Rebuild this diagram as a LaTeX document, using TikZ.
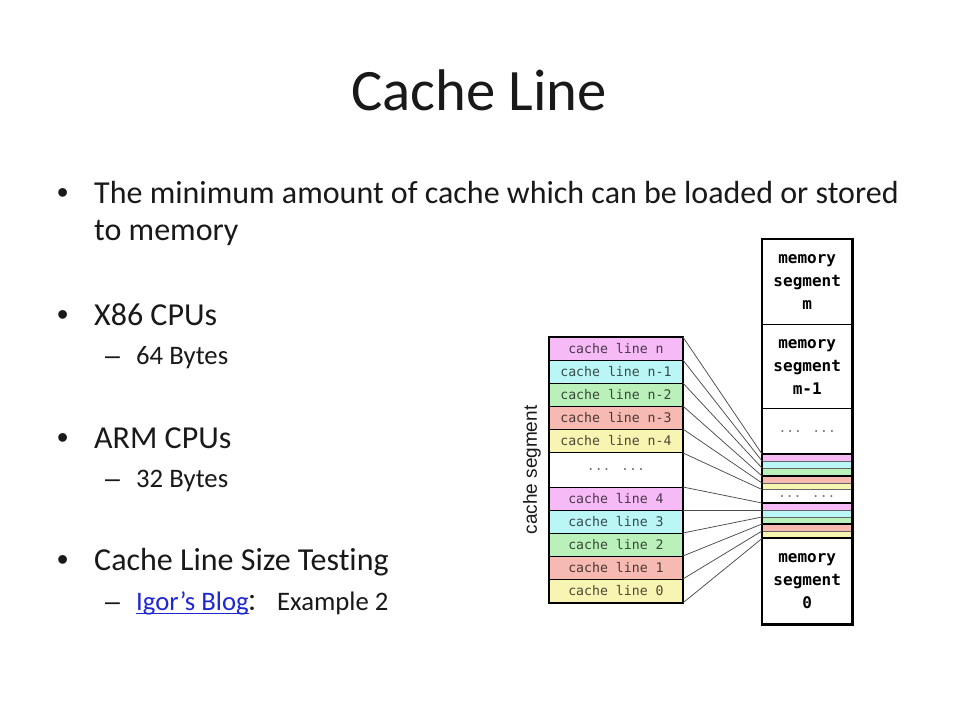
\documentclass[tikz,border=0pt]{standalone}
\usepackage{fontspec}
\setmainfont{Carlito}[Ligatures={NoCommon}]
\newfontfamily\monof{DejaVu Sans Mono}
\newfontfamily\sansf{Liberation Sans}
\newfontfamily\cjk{Noto Sans CJK SC}
\definecolor{cpink}{RGB}{246,186,246}
\definecolor{ccyan}{RGB}{186,246,246}
\definecolor{cgreen}{RGB}{186,240,186}
\definecolor{cred}{RGB}{246,186,178}
\definecolor{cyellow}{RGB}{248,244,178}
\definecolor{linkblue}{RGB}{30,40,210}
\definecolor{txt}{RGB}{25,25,25}
\begin{document}
\begin{tikzpicture}[x=1pt,y=-1pt,
  titlet/.style={font=\fontsize{58.7}{60}\selectfont, text=txt, inner sep=0, anchor=base},
  body/.style={font=\fontsize{32}{36}\selectfont, text=txt, inner sep=0, anchor=base west},
  subt/.style={font=\fontsize{26.7}{30}\selectfont, text=txt, inner sep=0, anchor=base west},
  bul/.style={font=\sansf\fontsize{32}{36}\selectfont, text=txt, inner sep=0, anchor=base west},
  subdash/.style={font=\sansf\fontsize{26.7}{30}\selectfont, text=txt, inner sep=0, anchor=base west},
  crow/.style={draw=black, line width=0.9pt, fill=#1, text=#1!30!black, minimum width=133pt, minimum height=23pt, inner sep=0, anchor=north west, font=\monof\fontsize{13.2}{14}\selectfont},
  mseg/.style={draw=black, line width=1.4pt, minimum width=89pt, inner sep=0, anchor=north west, align=center, font=\monof\bfseries\fontsize{16}{23}\selectfont},
  stripe/.style={draw=black!60, line width=0.5pt, fill=#1, minimum width=89pt, inner sep=0, anchor=north west},
  dotst/.style={text=black!55, font=\monof\fontsize{13}{14}\selectfont},
  conn/.style={draw=black!70, line width=0.75pt},
  thickl/.style={draw=black, line width=1.6pt}
]
\useasboundingbox[fill=white] (0,0) rectangle (960,720);

% title
\node[titlet] (title) at (479,110) {Cache Line};

% bullets
\node[bul] (bu1) at (57,203) {•};
\node[body] (t1) at (94,203) {The minimum amount of cache which can be loaded or stored};
\node[body] (t1b) at (94,240) {to memory};
\node[bul] (bu2) at (57,325) {•};
\node[body] (t2) at (94,325) {X86 CPUs};
\node[subdash] (da2) at (105,364) {–};
\node[subt] (s2) at (136,364) {64 Bytes};
\node[bul] (bu3) at (57,448) {•};
\node[body] (t3) at (94,448) {ARM CPUs};
\node[subdash] (da3) at (105,487) {–};
\node[subt] (s3) at (136,487) {32 Bytes};
\node[bul] (bu4) at (57,570) {•};
\node[body] (t4) at (94,570) {Cache Line Size Testing};
\node[subdash] (da4) at (105,610) {–};
\node[subt, text=linkblue] (link) at (136,610) {Igor’s Blog};
\draw[linkblue, line width=1.3pt] ([yshift=-3.5pt]link.base west) -- ([yshift=-3.5pt]link.base east);
\node[subt, font=\cjk\fontsize{24}{30}\selectfont] (colon) at (246,610) {：};
\node[subt] (ex) at (277,610) {Example 2};

% cache segment column
\node[crow=cpink]   (cn)  at (549,337) {cache line n};
\node[crow=ccyan]   (cn1) at (549,360) {cache line n-1};
\node[crow=cgreen]  (cn2) at (549,383) {cache line n-2};
\node[crow=cred]    (cn3) at (549,406) {cache line n-3};
\node[crow=cyellow] (cn4) at (549,429) {cache line n-4};
\node[crow=white, minimum height=35pt, text=black!55] (cdots) at (549,452) {... ...};
\node[crow=cpink]   (c4)  at (549,487) {cache line 4};
\node[crow=ccyan]   (c3)  at (549,510) {cache line 3};
\node[crow=cgreen]  (c2)  at (549,533) {cache line 2};
\node[crow=cred]    (c1)  at (549,556) {cache line 1};
\node[crow=cyellow] (c0)  at (549,579) {cache line 0};
\draw[line width=1.8pt] (cn.north west) rectangle (c0.south east);
\node[rotate=90, font=\sansf\fontsize{19}{20}\selectfont, text=txt] (cseg) at (532,470) {cache segment};

% memory column
\node[mseg, minimum height=85pt] (mm)  at (762,239) {memory\\segment\\m};
\node[mseg, minimum height=84pt] (mm1) at (762,324) {memory\\segment\\m-1};
\node[mseg, minimum height=46pt, font=\monof\fontsize{13}{14}\selectfont, text=black!55] (mdots) at (762,408) {... ...};
\node[stripe=cpink,   minimum height=7pt] (s1p) at (762,454) {};
\node[stripe=ccyan,   minimum height=7pt] (s1c) at (762,461) {};
\node[stripe=cgreen,  minimum height=8pt] (s1g) at (762,468) {};
\node[stripe=cred,    minimum height=7pt] (s1r) at (762,476) {};
\node[stripe=cyellow, minimum height=6pt] (s1y) at (762,483) {};
\node[stripe=white,   minimum height=14pt, dotst] (sdots) at (762,489) {... ...};
\node[stripe=cpink,   minimum height=7pt] (s2p) at (762,503) {};
\node[stripe=ccyan,   minimum height=7pt] (s2c) at (762,510) {};
\node[stripe=cgreen,  minimum height=7pt] (s2g) at (762,517) {};
\node[stripe=cred,    minimum height=7pt] (s2r) at (762,524) {};
\node[stripe=cyellow, minimum height=7pt] (s2y) at (762,531) {};
\node[mseg, minimum height=85pt] (m0)  at (762,538) {memory\\segment\\0};
\draw[thickl] (s1p.north west) -- (s1p.north east);
\draw[thickl] (s1r.north west) -- (s1r.north east);
\draw[thickl] (s2p.north west) -- (s2p.north east);
\draw[thickl] (s2r.north west) -- (s2r.north east);
\draw[thickl] (m0.north west) -- (m0.north east);
\draw[line width=2.4pt] (mm.north west) rectangle (m0.south east);

% connectors
\draw[conn] (cn.north east)  -- (s1p.north west);
\draw[conn] (cn1.north east) -- (s1c.north west);
\draw[conn] (cn2.north east) -- (s1g.north west);
\draw[conn] (cn3.north east) -- (s1r.north west);
\draw[conn] (cn4.north east) -- (s1y.north west);
\draw[conn] (cn4.south east) -- (s1y.south west);
\draw[conn] (c4.north east)  -- (s2p.north west);
\draw[conn] (c3.north east)  -- (s2c.north west);
\draw[conn] (c2.north east)  -- (s2g.north west);
\draw[conn] (c1.north east)  -- (s2r.north west);
\draw[conn] (c0.north east)  -- (s2y.north west);
\draw[conn] (c0.south east)  -- (s2y.south west);
\end{tikzpicture}
\end{document}
